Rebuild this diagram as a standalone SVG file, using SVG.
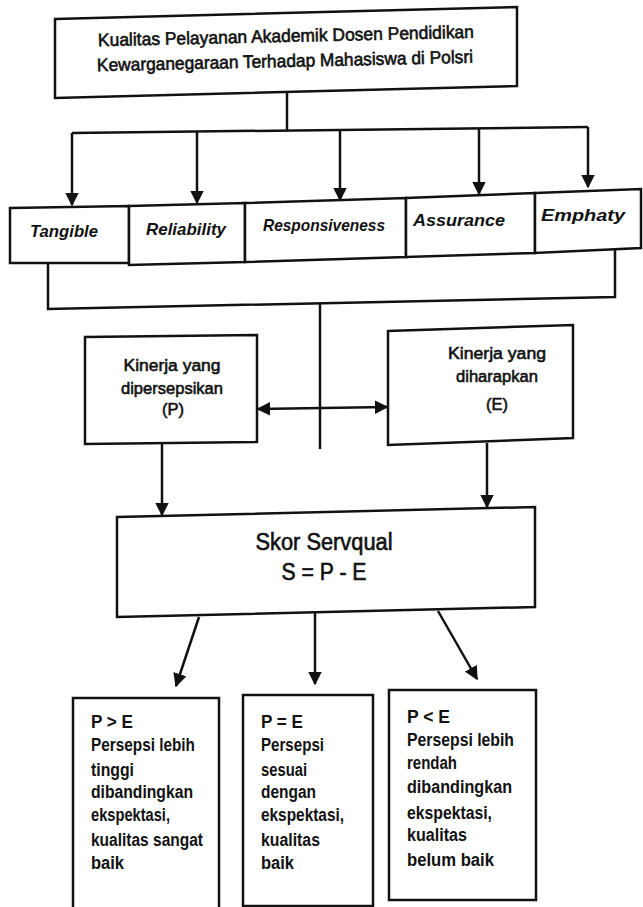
<svg xmlns="http://www.w3.org/2000/svg" width="643" height="907" viewBox="0 0 643 907">
<style>
.box{fill:#fff;stroke:#111;stroke-width:2.5}
.ln{fill:none;stroke:#111;stroke-width:2.5}
text{font-family:"Liberation Sans",Arial,sans-serif;fill:#111}
.t{font-size:18px;stroke:#111;stroke-width:0.6}
.dim{font-size:17px;font-style:italic;font-weight:bold;text-anchor:middle}
.mid{font-size:17px;text-anchor:middle;stroke:#111;stroke-width:0.6}
.sk{font-size:23px;text-anchor:middle;stroke:#111;stroke-width:0.6}
.res{font-size:18px;font-weight:bold}
</style>
<defs>
<marker id="ah" viewBox="0 0 10 10" refX="9" refY="5" markerWidth="5.5" markerHeight="5.5" orient="auto-start-reverse" markerUnits="strokeWidth">
<path d="M0,0 L10,5 L0,10 z" fill="#111"/>
</marker>
</defs>
<rect width="643" height="907" fill="#fff"/>

<g id="connectors">
<polyline class="ln" points="287,92 287,131"/>
<polyline class="ln" points="72,133 588,127"/>
<line class="ln" x1="72" y1="133" x2="72" y2="205" marker-end="url(#ah)"/>
<line class="ln" x1="197" y1="131" x2="197" y2="203" marker-end="url(#ah)"/>
<line class="ln" x1="340" y1="130" x2="340" y2="200" marker-end="url(#ah)"/>
<line class="ln" x1="479" y1="128" x2="479" y2="194" marker-end="url(#ah)"/>
<line class="ln" x1="588" y1="127" x2="588" y2="187" marker-end="url(#ah)"/>
<polyline class="ln" points="48,263 48,309 615,297 615,248"/>
<line class="ln" x1="320" y1="304" x2="320" y2="449"/>
<line class="ln" x1="258" y1="409" x2="387" y2="407" marker-start="url(#ah)" marker-end="url(#ah)"/>
<line class="ln" x1="162" y1="443" x2="162" y2="515" marker-end="url(#ah)"/>
<line class="ln" x1="487" y1="443" x2="487" y2="507" marker-end="url(#ah)"/>
<line class="ln" x1="199" y1="617" x2="176" y2="686" marker-end="url(#ah)"/>
<line class="ln" x1="315" y1="612" x2="315" y2="684" marker-end="url(#ah)"/>
<line class="ln" x1="438" y1="611" x2="477" y2="679" marker-end="url(#ah)"/>
</g>

<g id="top">
<polygon class="box" points="55,19 517,7 517,86 55,98"/>
<text class="t" x="98" y="42" textLength="376" lengthAdjust="spacingAndGlyphs" transform="rotate(-1.3 285 40)">Kualitas Pelayanan Akademik Dosen Pendidikan</text>
<text class="t" x="97" y="67" textLength="376" lengthAdjust="spacingAndGlyphs" transform="rotate(-1.3 285 64)">Kewarganegaraan Terhadap Mahasiswa di Polsri</text>
</g>

<g id="tangible">
<polygon class="box" points="10,208 129,206 129,263 10,263"/>
<text class="dim" x="64" y="237" textLength="68" lengthAdjust="spacingAndGlyphs">Tangible</text>
</g>
<g id="reliability">
<polygon class="box" points="129,206 245,203 245,262 129,265"/>
<text class="dim" x="186" y="235" textLength="80" lengthAdjust="spacingAndGlyphs">Reliability</text>
</g>
<g id="responsiveness">
<polygon class="box" points="245,203 406,198 406,257 245,262"/>
<text class="dim" x="324" y="231" textLength="122" lengthAdjust="spacingAndGlyphs">Responsiveness</text>
</g>
<g id="assurance">
<polygon class="box" points="406,198 535,193 535,253 406,257"/>
<text class="dim" x="459" y="226" textLength="92" lengthAdjust="spacingAndGlyphs">Assurance</text>
</g>
<g id="emphaty">
<polygon class="box" points="535,193 641,189 641,248 535,253"/>
<text class="dim" x="583" y="221" textLength="84" lengthAdjust="spacingAndGlyphs">Emphaty</text>
</g>

<g id="perceived">
<polygon class="box" points="85,337 257,335 257,442 85,444"/>
<text class="mid" x="172" y="371" textLength="97" lengthAdjust="spacingAndGlyphs">Kinerja yang</text>
<text class="mid" x="172" y="394" textLength="102" lengthAdjust="spacingAndGlyphs">dipersepsikan</text>
<text class="mid" x="173" y="415" textLength="22" lengthAdjust="spacingAndGlyphs">(P)</text>
</g>

<g id="expected">
<polygon class="box" points="388,331 573,325 573,438 388,445"/>
<text class="mid" x="497" y="359" textLength="98" lengthAdjust="spacingAndGlyphs">Kinerja yang</text>
<text class="mid" x="497" y="382" textLength="82" lengthAdjust="spacingAndGlyphs">diharapkan</text>
<text class="mid" x="497" y="410" textLength="22" lengthAdjust="spacingAndGlyphs">(E)</text>
</g>

<g id="skor">
<polygon class="box" points="117,517 535,507 535,607 117,617"/>
<text class="sk" x="324" y="550" textLength="137" lengthAdjust="spacingAndGlyphs">Skor Servqual</text>
<text class="sk" x="324" y="580" textLength="85" lengthAdjust="spacingAndGlyphs">S = P - E</text>
</g>

<g id="greater">
<rect class="box" x="73" y="698" width="146" height="215"/>
<text class="res" x="91" y="728" textLength="42" lengthAdjust="spacingAndGlyphs">P &gt; E</text>
<text class="res" x="91" y="751" textLength="104" lengthAdjust="spacingAndGlyphs">Persepsi lebih</text>
<text class="res" x="91" y="776" textLength="43" lengthAdjust="spacingAndGlyphs">tinggi</text>
<text class="res" x="91" y="798" textLength="102" lengthAdjust="spacingAndGlyphs">dibandingkan</text>
<text class="res" x="91" y="821" textLength="79" lengthAdjust="spacingAndGlyphs">ekspektasi,</text>
<text class="res" x="91" y="846" textLength="112" lengthAdjust="spacingAndGlyphs">kualitas sangat</text>
<text class="res" x="91" y="869" textLength="33" lengthAdjust="spacingAndGlyphs">baik</text>
</g>

<g id="equal">
<rect class="box" x="243" y="695" width="130" height="211"/>
<text class="res" x="261" y="728" textLength="42" lengthAdjust="spacingAndGlyphs">P = E</text>
<text class="res" x="261" y="751" textLength="63" lengthAdjust="spacingAndGlyphs">Persepsi</text>
<text class="res" x="261" y="776" textLength="46" lengthAdjust="spacingAndGlyphs">sesuai</text>
<text class="res" x="261" y="798" textLength="55" lengthAdjust="spacingAndGlyphs">dengan</text>
<text class="res" x="261" y="821" textLength="83" lengthAdjust="spacingAndGlyphs">ekspektasi,</text>
<text class="res" x="261" y="846" textLength="59" lengthAdjust="spacingAndGlyphs">kualitas</text>
<text class="res" x="261" y="869" textLength="33" lengthAdjust="spacingAndGlyphs">baik</text>
</g>

<g id="less">
<rect class="box" x="389" y="690" width="147" height="210"/>
<text class="res" x="407" y="723" textLength="43" lengthAdjust="spacingAndGlyphs">P &lt; E</text>
<text class="res" x="407" y="746" textLength="107" lengthAdjust="spacingAndGlyphs">Persepsi lebih</text>
<text class="res" x="407" y="769" textLength="50" lengthAdjust="spacingAndGlyphs">rendah</text>
<text class="res" x="407" y="793" textLength="105" lengthAdjust="spacingAndGlyphs">dibandingkan</text>
<text class="res" x="407" y="819" textLength="85" lengthAdjust="spacingAndGlyphs">ekspektasi,</text>
<text class="res" x="407" y="841" textLength="60" lengthAdjust="spacingAndGlyphs">kualitas</text>
<text class="res" x="407" y="866" textLength="87" lengthAdjust="spacingAndGlyphs">belum baik</text>
</g>
</svg>
